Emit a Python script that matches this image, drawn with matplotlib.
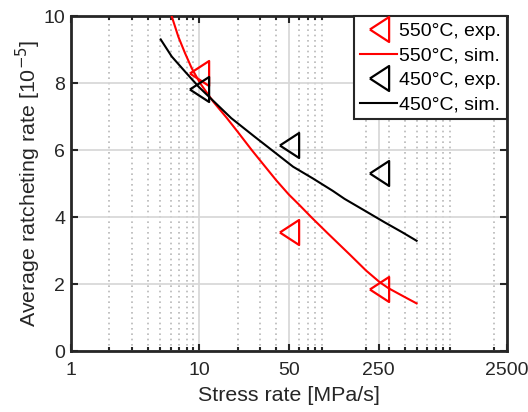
import numpy as np
import matplotlib
matplotlib.use('Agg')
import matplotlib.pyplot as plt
from matplotlib.ticker import LogLocator, NullFormatter, FixedLocator, FixedFormatter

plt.rcParams['font.family'] = ['Liberation Sans', 'DejaVu Sans']

# measured ratcheting rates (x: stress rate in MPa/s, y: rate in 1e-5)
exp_rate = [10, 50, 250]
exp_550 = [8.3, 3.57, 1.85]
exp_450 = [7.82, 6.15, 5.31]

# simulated curves
sim_550_x = [6.12, 6.89, 7.77, 8.76, 10.2, 12.9, 16.4, 20, 25.8, 30, 40, 50, 60,
             75, 100, 150, 200, 256, 300, 400, 495]
sim_550_y = [10.0, 9.39, 8.90, 8.45, 8.0, 7.45, 6.97, 6.55, 6.0, 5.69, 5.10, 4.68,
             4.38, 4.0, 3.53, 2.88, 2.41, 2.06, 1.88, 1.62, 1.43]
sim_450_x = [5.02, 6.12, 7.77, 9.9, 12.7, 17.8, 27.0, 38.2, 54.0, 77.0, 110, 136,
             195, 279, 380, 495]
sim_450_y = [9.31, 8.80, 8.35, 7.90, 7.50, 6.96, 6.41, 5.96, 5.51, 5.16, 4.79,
             4.55, 4.20, 3.85, 3.56, 3.30]

xticks = [1, 10, 50, 250, 2500]
xtick_labels = ['1', '10', '50', '250', '2500']
yticks = [0, 2, 4, 6, 8, 10]

# narrow left-pointing triangle
tri = [(-0.77, 0.0), (0.77, 1.0), (0.77, -1.0), (-0.77, 0.0)]

dark = '#262626'
fig = plt.figure(figsize=(5.28, 4.12), dpi=100)
ax = fig.add_axes([0.134, 0.1473, 0.826, 0.8131])

ax.plot(exp_rate, exp_550, ls='none', marker=tri, ms=18, mfc='none', mec='red',
        mew=1.6, label='550°C, exp.', zorder=4)
ax.plot(sim_550_x, sim_550_y, color='red', lw=1.5, label='550°C, sim.', zorder=3)
ax.plot(exp_rate, exp_450, ls='none', marker=tri, ms=18, mfc='none', mec='black',
        mew=1.6, label='450°C, exp.', zorder=4)
ax.plot(sim_450_x, sim_450_y, color='black', lw=1.5, label='450°C, sim.', zorder=3)

ax.set_xscale('log')
ax.set_xlim(1, 2500)
ax.set_ylim(0, 10)
ax.xaxis.set_major_locator(FixedLocator(xticks))
ax.xaxis.set_major_formatter(FixedFormatter(xtick_labels))
ax.xaxis.set_minor_locator(LogLocator(base=10, subs=np.arange(2, 10)))
ax.xaxis.set_minor_formatter(NullFormatter())
ax.set_yticks(yticks)

ax.grid(which='major', color='#d6d6d6', lw=1.2, ls='-', zorder=0)
ax.grid(which='minor', axis='x', color='#b8b8b8', lw=1.2, ls=(0, (1, 2.2)), zorder=0)
ax.set_axisbelow(True)

ax.tick_params(which='both', direction='in', top=True, right=True,
               colors=dark, labelsize=14, width=1.5)
ax.tick_params(which='major', length=5)
ax.tick_params(which='minor', length=3)
ax.tick_params(axis='x', which='major', pad=8)
ax.tick_params(axis='y', which='major', pad=4)
for s in ax.spines.values():
    s.set_linewidth(2.0)
    s.set_color(dark)

ax.set_xlabel('Stress rate [MPa/s]', fontsize=15.4, color=dark, labelpad=5)
ax.set_ylabel('Average ratcheting rate [10$^{-5}$]', fontsize=15.4, color=dark,
              labelpad=0)

leg = ax.legend(loc='upper right', fontsize=14, borderaxespad=0, fancybox=False,
                framealpha=1, edgecolor=dark, handlelength=1.9, handletextpad=0.1,
                labelspacing=0.36, borderpad=0.3, markerscale=1.0)
leg.get_frame().set_linewidth(1.5)

fig.savefig('out.png', dpi=100)
